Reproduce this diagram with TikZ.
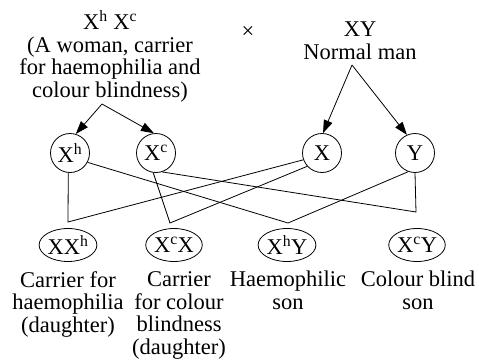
\documentclass[tikz,border=0pt]{standalone}
\usepackage{fontspec}
\setmainfont{Liberation Serif}
\usetikzlibrary{arrows.meta,shapes.geometric}
\begin{document}
\begin{tikzpicture}[
		x=1pt,y=-1pt,
		line width=0.8pt,
		every node/.style={font=\fontsize{22.5}{22.5}\selectfont},
		gamete/.style={circle,draw,minimum size=39pt,inner sep=0pt},
		zygote/.style={ellipse,draw,minimum width=55pt,minimum height=33pt,inner sep=0pt},
		caption/.style={align=center,anchor=base,inner sep=0pt},
		descent/.style={-{Triangle[length=13pt,width=9pt]}}
	]
	\useasboundingbox (0,0) rectangle (479,359);
	% parents (node placed at the baseline of the last line)
	\node[caption] (woman) at (110,97) {X\textsuperscript{h} X\textsuperscript{c}\\(A woman, carrier\\for haemophilia and\\colour blindness)};
	\node[caption] (cross) at (248,38) {×};
	\node[caption] (man) at (360,59) {XY\\Normal man};
	\coordinate (wsplit) at (102,104);
	\coordinate (msplit) at (352,65);
	% gametes
	\node[gamete] (hX) at (70,153) {X\textsuperscript{h}};
	\node[gamete] (cX) at (156,153) {X\textsuperscript{c}};
	\node[gamete] (mX) at (322,153) {X};
	\node[gamete] (mY) at (415,153) {Y};
	\draw[descent] (wsplit) -- (hX.73);
	\draw[descent] (wsplit) -- (cX.96);
	\draw[descent] (msplit) -- (mX.87);
	\draw[descent] (msplit) -- (mY.114);
	% offspring
	\node[zygote] (dh) at (68,245) {XX\textsuperscript{h}};
	\node[zygote] (dc) at (174,245) {X\textsuperscript{c}X};
	\node[zygote] (sh) at (287,245) {X\textsuperscript{h}Y};
	\node[zygote] (sc) at (417,245) {X\textsuperscript{c}Y};
	\coordinate (c1) at (68,222);
	\coordinate (c2) at (170,223);
	\coordinate (c3) at (288,223);
	\coordinate (c4) at (416,212);
	\draw (hX.-95) -- (c1) -- (mX.200);
	\draw (cX.-98) -- (c2) -- (mX.222);
	\draw (hX.-28) -- (c3) -- (mY.-110);
	\draw (cX.-72) -- (c4) -- (mY.south);
	\node[caption] (dhtext) at (68,332) {Carrier for\\haemophilia\\(daughter)};
	\node[caption] (dctext) at (179,354) {Carrier\\for colour\\blindness\\(daughter)};
	\node[caption] (shtext) at (288,309) {Haemophilic\\son};
	\node[caption] (sctext) at (418,309) {Colour blind\\son};
\end{tikzpicture}
\end{document}
